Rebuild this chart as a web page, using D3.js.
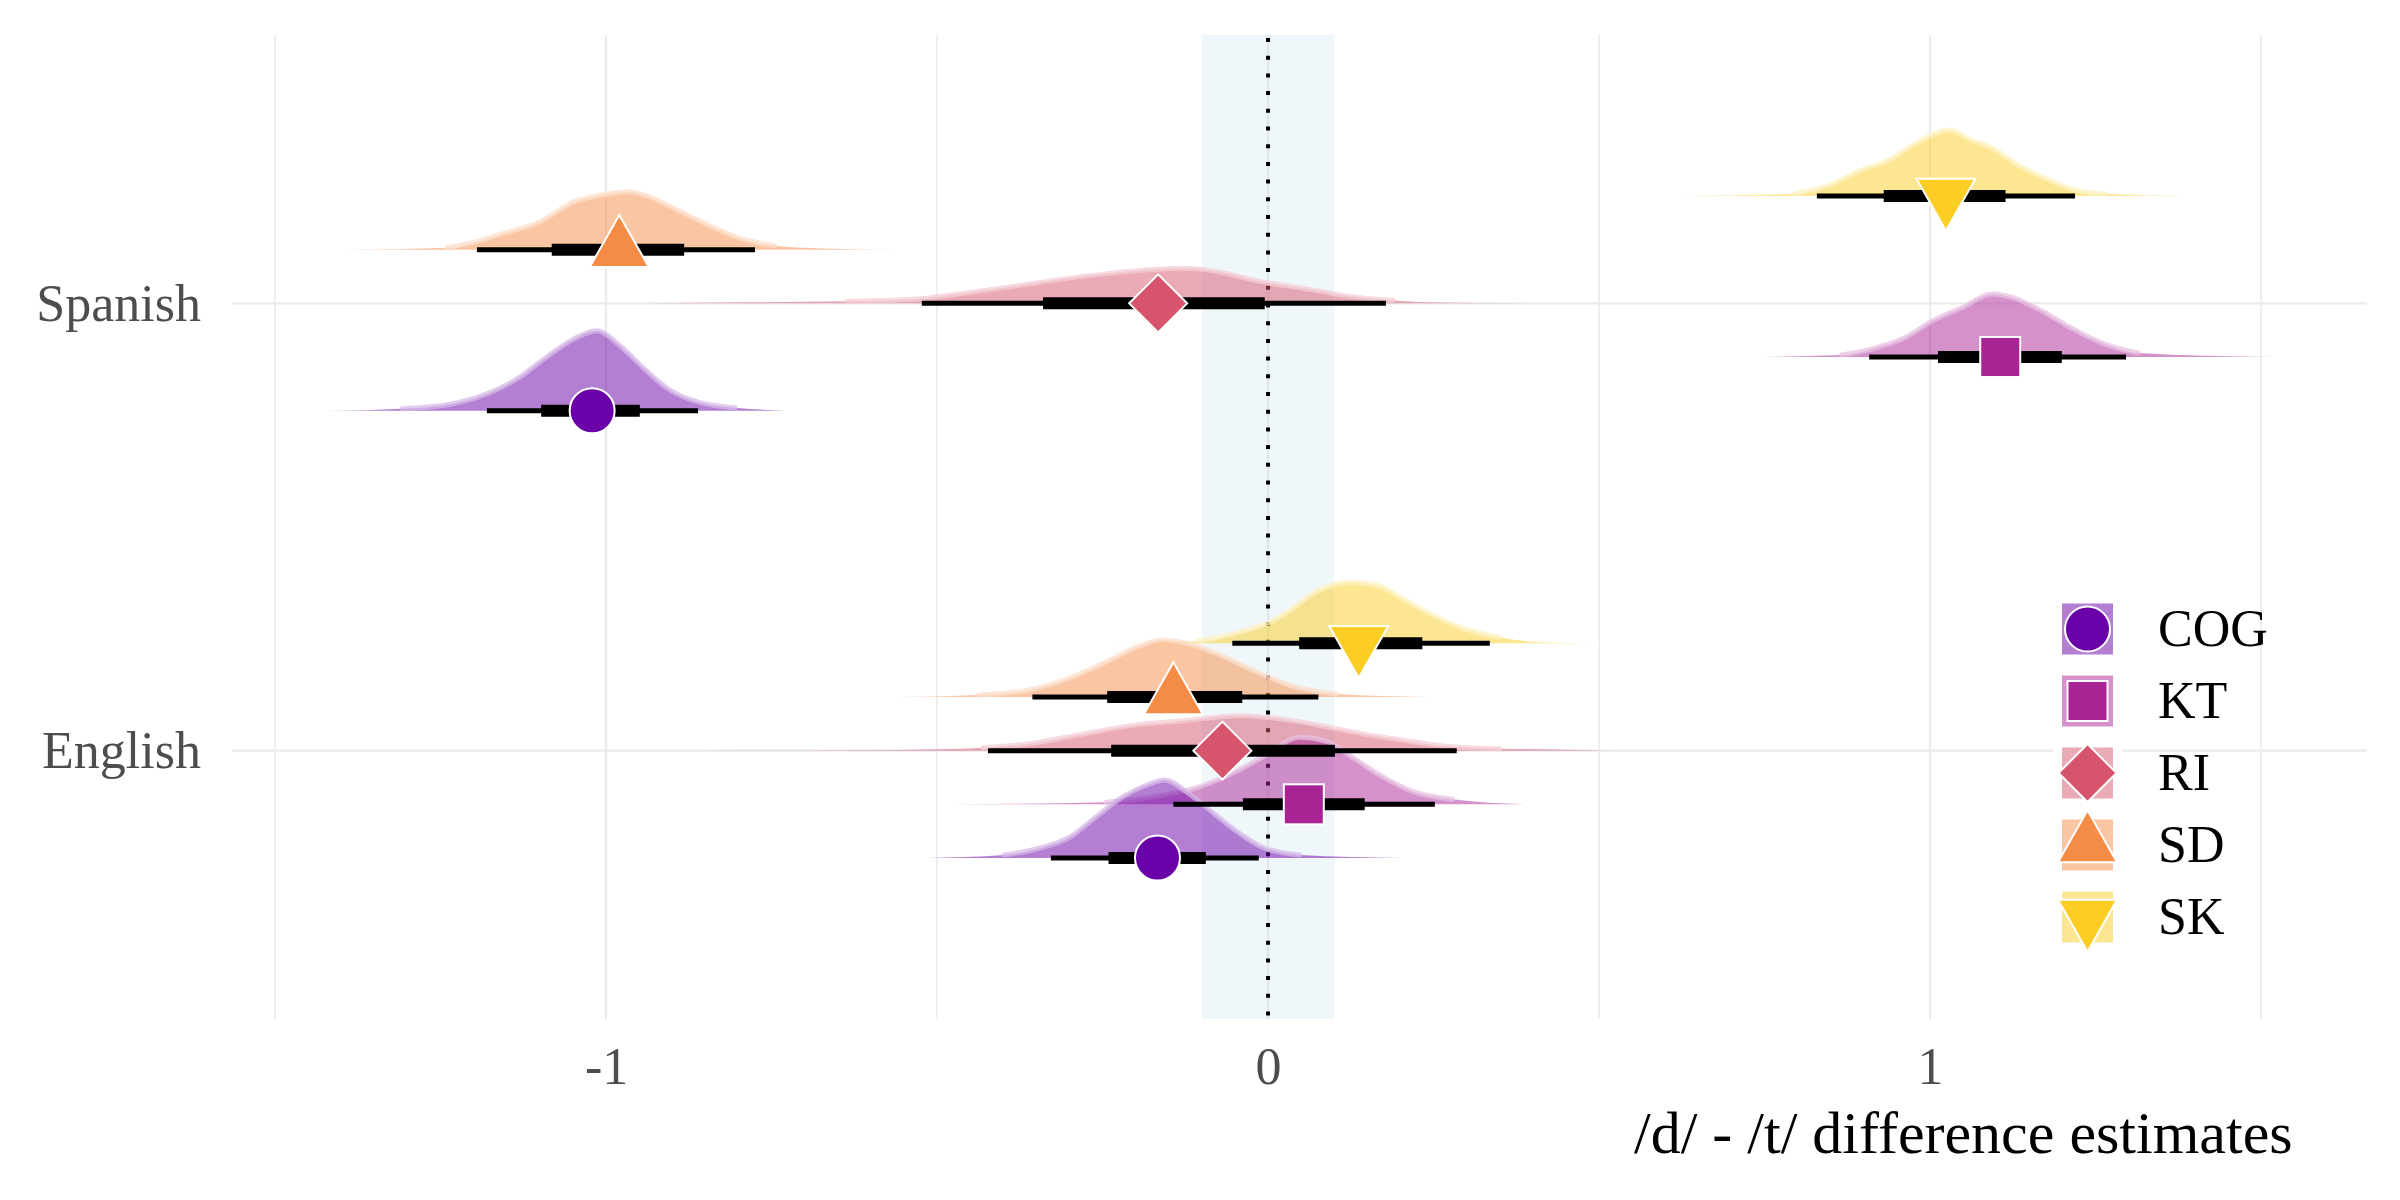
<!DOCTYPE html>
<html><head><meta charset="utf-8">
<script src="https://cdn.jsdelivr.net/npm/d3@7/dist/d3.min.js"></script>
<style>body{margin:0;background:#fff}</style>
</head><body>
<svg id="chart" width="2400" height="1200"></svg>
<script>
// ---------------- DATA ----------------
const languages = ["Spanish", "English"];
const dialects = ["COG", "KT", "RI", "SD", "SK"];
const xTicks = [-1, 0, 1];
const xTickLabels = ["-1", "0", "1"];
const xMinorTicks = [-1.5, -0.5, 0.5, 1.5];
const ropeRange = [-0.1, 0.1];
const xTitle = "/d/ - /t/ difference estimates";

// point estimates, order COG, KT, RI, SD, SK
const spanishPoint = [-1.021, 1.106, -0.166, -0.980, 1.024];
const spanishThick = [[-1.098, -0.949], [1.012, 1.199], [-0.340, -0.005], [-1.082, -0.882], [0.930, 1.114]];
const spanishThin  = [[-1.180, -0.861], [0.908, 1.296], [-0.523, 0.178], [-1.195, -0.775], [0.829, 1.219]];
const englishPoint = [-0.167, 0.054, -0.069, -0.143, 0.137];
const englishThick = [[-0.241, -0.094], [-0.038, 0.146], [-0.237, 0.101], [-0.243, -0.039], [0.047, 0.233]];
const englishThin  = [[-0.328, -0.014], [-0.143, 0.252], [-0.423, 0.285], [-0.356, 0.076], [-0.054, 0.335]];

// posterior densities [x, relative density]
const spanishCOG = [[-1.421,0],[-1.308,0.02],[-1.239,0.06],[-1.187,0.15],[-1.134,0.32],[-1.083,0.57],[-1.048,0.72],[-1.014,0.80],[-0.979,0.65],[-0.944,0.43],[-0.909,0.23],[-0.858,0.08],[-0.805,0.03],[-0.728,0]];
const spanishKT  = [[0.722,0],[0.866,0.02],[0.917,0.09],[0.961,0.19],[1.003,0.36],[1.047,0.49],[1.094,0.63],[1.127,0.59],[1.169,0.46],[1.213,0.29],[1.264,0.13],[1.314,0.04],[1.517,0]];
const spanishRI  = [[-0.938,0],[-0.787,0.01],[-0.636,0.02],[-0.536,0.04],[-0.461,0.10],[-0.385,0.17],[-0.314,0.24],[-0.239,0.30],[-0.128,0.35],[-0.088,0.33],[-0.012,0.22],[0.063,0.14],[0.124,0.07],[0.189,0.03],[0.240,0.01],[0.411,0]];
const spanishSD  = [[-1.403,0],[-1.239,0.02],[-1.196,0.08],[-1.162,0.15],[-1.100,0.28],[-1.048,0.48],[-1.005,0.55],[-0.965,0.58],[-0.935,0.53],[-0.893,0.40],[-0.840,0.23],[-0.796,0.11],[-0.745,0.04],[-0.659,0.01],[-0.556,0]];
const spanishSK  = [[0.621,0],[0.795,0.02],[0.852,0.12],[0.896,0.26],[0.938,0.36],[0.982,0.54],[1.029,0.66],[1.062,0.56],[1.091,0.49],[1.133,0.31],[1.177,0.17],[1.213,0.07],[1.264,0.02],[1.394,0]];
const englishCOG = [[-0.514,0],[-0.399,0.03],[-0.344,0.10],[-0.299,0.21],[-0.260,0.41],[-0.222,0.60],[-0.183,0.73],[-0.156,0.78],[-0.121,0.65],[-0.083,0.45],[-0.044,0.25],[-0.006,0.10],[0.048,0.03],[0.202,0]];
const englishKT  = [[-0.476,0],[-0.245,0.02],[-0.168,0.08],[-0.106,0.17],[-0.051,0.32],[-0.006,0.48],[0.048,0.67],[0.088,0.63],[0.125,0.48],[0.172,0.28],[0.218,0.13],[0.279,0.05],[0.388,0]];
const englishRI  = [[-0.852,0],[-0.631,0.005],[-0.500,0.015],[-0.431,0.03],[-0.360,0.07],[-0.284,0.16],[-0.208,0.25],[-0.128,0.30],[-0.044,0.35],[0.026,0.31],[0.103,0.22],[0.150,0.16],[0.199,0.11],[0.249,0.06],[0.301,0.03],[0.350,0.02],[0.452,0.01],[0.517,0]];
const englishSD  = [[-0.560,0],[-0.437,0.02],[-0.360,0.07],[-0.299,0.19],[-0.245,0.35],[-0.198,0.50],[-0.160,0.57],[-0.113,0.52],[-0.066,0.40],[-0.014,0.24],[0.041,0.10],[0.103,0.03],[0.242,0]];
const englishSK  = [[-0.245,0],[-0.106,0.02],[-0.044,0.11],[0.002,0.21],[0.033,0.33],[0.071,0.51],[0.125,0.61],[0.165,0.58],[0.202,0.45],[0.249,0.28],[0.295,0.15],[0.349,0.06],[0.411,0.01],[0.502,0]];

// ---------------- BUILD ----------------
const series = {
  Spanish: {point: spanishPoint, thick: spanishThick, thin: spanishThin, dens: [spanishCOG, spanishKT, spanishRI, spanishSD, spanishSK]},
  English: {point: englishPoint, thick: englishThick, thin: englishThin, dens: [englishCOG, englishKT, englishRI, englishSD, englishSK]}
};
const colors = [0.2, 0.375, 0.55, 0.725, 0.9].map(t => d3.interpolatePlasma(t));
const FONT = "'Liberation Serif','Times New Roman',Times,serif";

const W = 2400, H = 1200;
const panel = {left: 232, right: 2367, top: 35, bottom: 1019};
const svg = d3.select("#chart");
svg.append("rect").attr("width", W).attr("height", H).attr("fill", "#fff");

const x = d3.scaleLinear().domain([-1.565, 1.660]).range([panel.left, panel.right]);
const y = d3.scalePoint().domain(languages).range([panel.top, panel.bottom]).padding(0.6);
const step = y.step();
const dodge = i => (2 - i) * 0.12 * step;
const dens = d3.scaleLinear().domain([0, 1]).range([0, 100]);

// gridlines
const grid = svg.append("g");
grid.selectAll("line.minor").data(xMinorTicks).join("line")
  .attr("x1", d => x(d)).attr("x2", d => x(d)).attr("y1", panel.top).attr("y2", panel.bottom)
  .attr("stroke", "#ebebeb").attr("stroke-width", 1.6);
grid.selectAll("line.major").data(xTicks).join("line")
  .attr("x1", d => x(d)).attr("x2", d => x(d)).attr("y1", panel.top).attr("y2", panel.bottom)
  .attr("stroke", "#ebebeb").attr("stroke-width", 2.2);
grid.selectAll("line.h").data(languages).join("line")
  .attr("x1", panel.left).attr("x2", panel.right).attr("y1", d => y(d)).attr("y2", d => y(d))
  .attr("stroke", "#ebebeb").attr("stroke-width", 2.2);

// ROPE rect
svg.append("rect")
  .attr("x", x(ropeRange[0])).attr("width", x(ropeRange[1]) - x(ropeRange[0]))
  .attr("y", panel.top).attr("height", panel.bottom - panel.top)
  .attr("fill", "lightblue").attr("fill-opacity", 0.2);

// zero line
svg.append("line")
  .attr("x1", x(0)).attr("x2", x(0)).attr("y1", panel.top + 3).attr("y2", panel.bottom)
  .attr("stroke", "#000").attr("stroke-width", 4).attr("stroke-dasharray", "4,13.7");

// slabs
const drawOrder = [4, 3, 2, 1, 0];
const slabs = svg.append("g");
languages.forEach(lang => {
  const s = series[lang];
  drawOrder.forEach(i => {
    const base = y(lang) + dodge(i);
    const area = d3.area().curve(d3.curveMonotoneX)
      .x(d => x(d[0])).y0(base).y1(d => base - dens(d[1]));
    const line = d3.line().curve(d3.curveMonotoneX)
      .x(d => x(d[0])).y(d => base - dens(d[1]));
    slabs.append("path").attr("d", area(s.dens[i]))
      .attr("fill", colors[i]).attr("fill-opacity", 0.5);
    const inner = s.dens[i].filter(d => d[1] >= 0.02);
    slabs.append("path").attr("d", line(inner))
      .attr("fill", "none").attr("stroke", d3.interpolateRgb(colors[i], "#fff")(0.72))
      .attr("stroke-opacity", 0.75).attr("stroke-width", 5).attr("stroke-linecap", "round");
  });
});

// intervals
const ints = svg.append("g");
languages.forEach(lang => {
  const s = series[lang];
  drawOrder.forEach(i => {
    const base = y(lang) + dodge(i);
    ints.append("line").attr("x1", x(s.thin[i][0])).attr("x2", x(s.thin[i][1]))
      .attr("y1", base).attr("y2", base).attr("stroke", "#000").attr("stroke-width", 5);
    ints.append("line").attr("x1", x(s.thick[i][0])).attr("x2", x(s.thick[i][1]))
      .attr("y1", base).attr("y2", base).attr("stroke", "#000").attr("stroke-width", 12);
  });
});

// shapes
function shape(g, i, cx, cy) {
  let el;
  if (i === 0) el = g.append("circle").attr("cx", cx).attr("cy", cy).attr("r", 22.5);
  else if (i === 1) el = g.append("rect").attr("x", cx - 20).attr("y", cy - 20).attr("width", 40).attr("height", 40);
  else if (i === 2) el = g.append("polygon").attr("points", [[cx, cy - 29], [cx + 29, cy], [cx, cy + 29], [cx - 29, cy]].join(" "));
  else if (i === 3) el = g.append("polygon").attr("points", [[cx, cy - 34.7], [cx + 29.5, cy + 17.3], [cx - 29.5, cy + 17.3]].join(" "));
  else el = g.append("polygon").attr("points", [[cx - 29.5, cy - 17.3], [cx + 29.5, cy - 17.3], [cx, cy + 34.7]].join(" "));
  el.attr("fill", colors[i]).attr("stroke", "#fff").attr("stroke-width", 2);
}
const pts = svg.append("g");
languages.forEach(lang => {
  const s = series[lang];
  drawOrder.forEach(i => shape(pts, i, x(s.point[i]), y(lang) + dodge(i)));
});

// axes
const xAxis = svg.append("g").attr("transform", `translate(0,${panel.bottom})`)
  .call(d3.axisBottom(x).tickValues(xTicks).tickFormat((d, i) => xTickLabels[i]).tickSize(0).tickPadding(28));
xAxis.select(".domain").remove();
xAxis.selectAll("text").attr("font-family", FONT).attr("font-size", 52).attr("fill", "#4d4d4d");

const yAxis = svg.append("g").attr("transform", `translate(${panel.left},0)`)
  .call(d3.axisLeft(y).tickSize(0).tickPadding(31));
yAxis.select(".domain").remove();
yAxis.selectAll("text").attr("font-family", FONT).attr("font-size", 52).attr("fill", "#4d4d4d").attr("dy", "0.33em");

svg.append("text").attr("x", 1634).attr("y", 1153).attr("font-family", FONT)
  .attr("font-size", 60).attr("fill", "#000").text(xTitle);

// legend
const leg = svg.append("g");
const legY0 = 629, legStep = 72, keyX = 2087.5;
leg.append("rect").attr("x", 2053).attr("y", legY0 - 36).attr("width", 69).attr("height", legStep * 5).attr("fill", "#fff");
dialects.forEach((d, i) => {
  const cy = legY0 + i * legStep;
  leg.append("rect").attr("x", keyX - 25.5).attr("y", cy - 25.5).attr("width", 51).attr("height", 51)
    .attr("fill", colors[i]).attr("fill-opacity", 0.5);
  shape(leg, i, keyX, cy);
  leg.append("text").attr("x", 2158).attr("y", cy).attr("dy", "0.33em")
    .attr("font-family", FONT).attr("font-size", 52).attr("fill", "#000").text(d);
});
</script>
</body></html>
